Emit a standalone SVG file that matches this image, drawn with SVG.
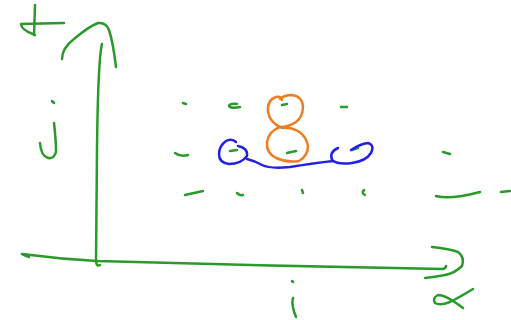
<svg xmlns="http://www.w3.org/2000/svg" width="511" height="320" viewBox="0 0 511 320">
<style>
path{fill:none;stroke-linecap:round;stroke-linejoin:round;stroke-width:2.5}
.g{stroke:#2a9a2a}
.o{stroke:#f07c22}
.b{stroke:#2222e6}
</style>
<rect width="511" height="320" fill="#fff"/>
<g id="axes">
<path class="g" d="M35,5 L34,35 M64,23 L21,24 Q21,30 35,35"/>
<path class="g" d="M62,59 Q62,48 74,39 Q88,27 98,23 Q106,22 109,30 Q113,42 116,67"/>
<path class="g" d="M102,44 Q98,60 97,150 L96,262 Q97,267 100,265"/>
<path class="g" d="M22,254 Q25,256 29,257 M22,254 Q60,259 97,261 Q270,266 443,269 Q446,268 446,266"/>
<path class="g" d="M432,247 Q450,249 458,252 Q465,257 462,266 Q455,273 445,275 Q435,277 425,278"/>
</g>
<g id="labels">
<path class="g" d="M52,101 L54,103"/>
<path class="g" d="M54,123 Q56,140 56,152 Q54,159 48,158 Q41,156 40,143"/>
<path class="g" d="M292,281 L293,282"/>
<path class="g" d="M293,298 Q291,305 296,317"/>
<path class="g" d="M473,289 Q460,297 450,302 Q440,306 435,303 Q432,298 438,295 Q446,295 463,308"/>
</g>
<g id="points">
<path class="g" d="M183,103 L186,104"/>
<path class="g" d="M237,104 Q230,103 229,106 Q231,109 240,107"/>
<path class="g" d="M282,105 L287,104"/>
<path class="g" d="M341,107 L347,107"/>
<path class="g" d="M175,153 Q180,157 188,155"/>
<path class="g" d="M230,151 L237,150"/>
<path class="g" d="M287,153 L296,151"/>
<path class="g" d="M352,150 L358,148"/>
<path class="g" d="M443,152 L450,154"/>
<path class="g" d="M185,195 L203,191"/>
<path class="g" d="M237,193 Q240,196 243,195"/>
<path class="g" d="M302,190 L303,193"/>
<path class="g" d="M364,190 Q361,193 365,195"/>
<path class="g" d="M436,196 Q450,200 480,192"/>
<path class="g" d="M501,192 L510,191"/>
</g>
<g id="orange">
<path class="o" d="M282,128 Q270,123 268,112 Q267,100 276,97 Q281,96 282,100 M280,99 Q284,95 292,95 Q302,96 303,106 Q303,117 296,122 Q289,127 280,127 Q269,131 267,142 Q266,153 276,158 Q287,163 299,161 Q308,156 308,146 Q306,136 298,131 Q290,127 283,128"/>
</g>
<g id="blue">
<path class="b" d="M236,142 Q232,138 226,141 Q219,146 219,154 Q219,163 229,164 Q241,164 247,156 Q248,148 238,146"/>
<path class="b" d="M247,159 Q255,161 262,165 Q270,169 290,167 Q315,163 333,161"/>
<path class="b" d="M351,150 Q360,144 368,143 Q375,145 371,153 Q366,161 352,163 Q338,165 332,160 Q329,152 338,148"/>
</g>
</svg>
